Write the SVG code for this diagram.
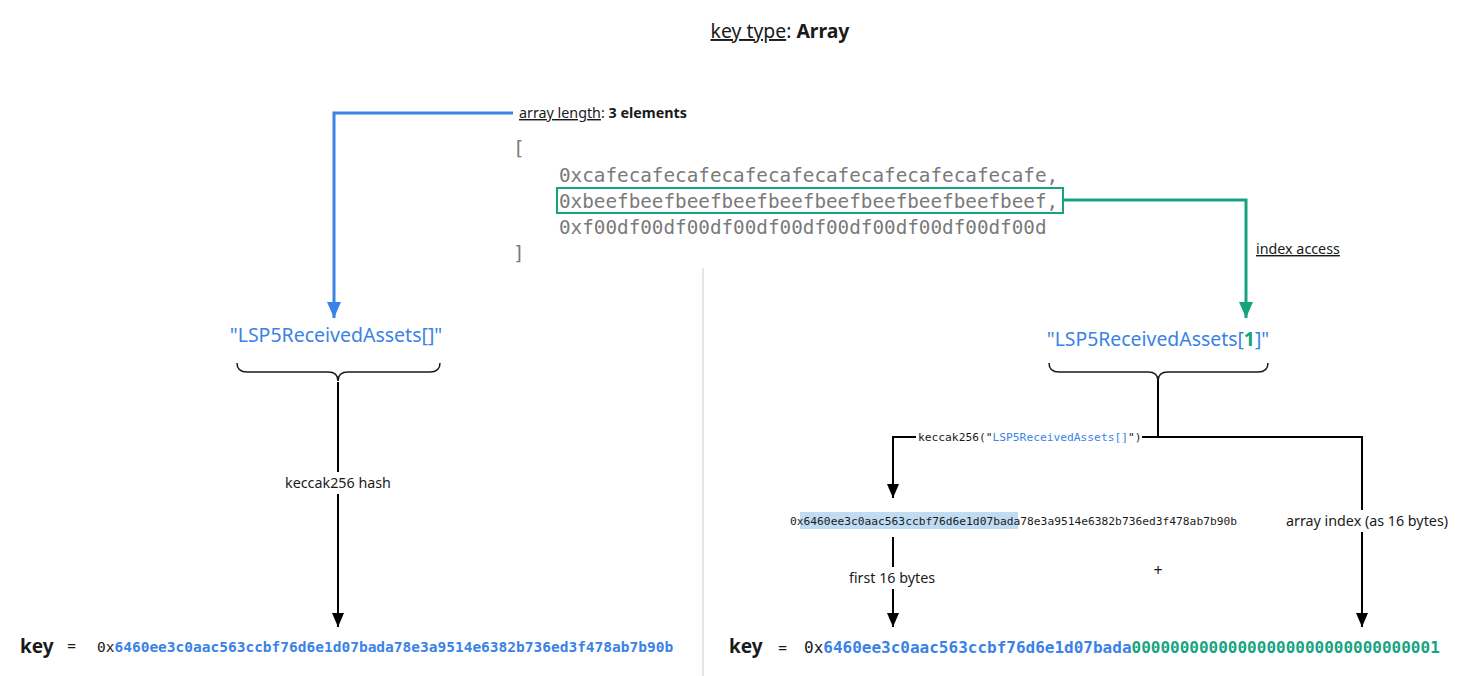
<svg xmlns="http://www.w3.org/2000/svg" width="1477" height="676" viewBox="0 0 1477 676">
<defs>
<style>
.sans{font-family:"Noto Sans","Open Sans","Liberation Sans",sans-serif;fill:#1a1a1a}
.mono{font-family:"DejaVu Sans Mono","Liberation Mono",monospace}
.blue{fill:#3b82e6}
.green{fill:#16a37f}
.code{fill:#7a7a7a;font-size:19.3px}
.k{stroke:#000;stroke-width:2;fill:none}
.u{text-decoration:underline}
.lbl{font-size:14.3px}
</style>
<marker id="ak" viewBox="0 0 14 12" refX="14" refY="6" markerWidth="14" markerHeight="12" markerUnits="userSpaceOnUse" orient="auto"><path d="M0,0 L14,6 L0,12 z" fill="#000"/></marker>
<marker id="ab" viewBox="0 0 14 16" refX="7" refY="16" markerWidth="14" markerHeight="16" markerUnits="userSpaceOnUse"><path d="M0,0 L14,0 L7,16 z" fill="#3b82e6"/></marker>
<marker id="ag" viewBox="0 0 14 16" refX="7" refY="16" markerWidth="14" markerHeight="16" markerUnits="userSpaceOnUse"><path d="M0,0 L14,0 L7,16 z" fill="#16a37f"/></marker>
</defs>
<rect width="1477" height="676" fill="#fff"/>

<g id="title"><text class="sans" x="780" y="38" font-size="19.4" text-anchor="middle"><tspan class="u">key type</tspan>: <tspan font-weight="bold">Array</tspan></text></g>

<line x1="703" y1="268" x2="703" y2="676" stroke="#e6e6e6" stroke-width="2"/>

<g id="connectors">
<path d="M513,113 H334 V318" stroke="#3b82e6" stroke-width="3" fill="none" marker-end="url(#ab)"/>
<path d="M1063,200 H1246 V318" stroke="#16a37f" stroke-width="3" fill="none" marker-end="url(#ag)"/>
<path class="k" d="M338,382 V627" marker-end="url(#ak)"/>
<path class="k" d="M1158,380 V437"/>
<path class="k" d="M1158,437 H893 V498" marker-end="url(#ak)"/>
<path class="k" d="M1158,437 H1362 V627" marker-end="url(#ak)"/>
<path class="k" d="M893,537 V627" marker-end="url(#ak)"/>
<path d="M237,363 Q237,372 247,372 L328,372 Q338,372 338,381 Q338,372 348,372 L430,372 Q440,372 440,363" stroke="#1a1a1a" stroke-width="1.5" fill="none"/>
<path d="M1049,363 Q1049,372 1059,372 L1148,372 Q1158,372 1158,381 Q1158,372 1168,372 L1258,372 Q1268,372 1268,363" stroke="#1a1a1a" stroke-width="1.5" fill="none"/>
</g>

<g id="array-length"><text class="sans lbl" x="519" y="118"><tspan class="u">array length</tspan>: <tspan font-weight="bold">3 elements</tspan></text></g>

<g id="array">
<text class="mono code" x="513" y="155">[</text>
<text class="mono code" x="559" y="182">0xcafecafecafecafecafecafecafecafecafecafe,</text>
<rect x="557" y="188" width="506" height="25" fill="none" stroke="#16a37f" stroke-width="2"/>
<text class="mono code" x="559" y="208">0xbeefbeefbeefbeefbeefbeefbeefbeefbeefbeef,</text>
<text class="mono code" x="559" y="234">0xf00df00df00df00df00df00df00df00df00df00d</text>
<text class="mono code" x="513" y="260">]</text>
</g>

<g id="index-access"><text class="sans u lbl" x="1256" y="254">index access</text></g>

<g id="name-left"><text class="sans blue" x="336" y="342" font-size="19.5" text-anchor="middle">"LSP5ReceivedAssets[]"</text></g>
<g id="name-right"><text class="sans blue" x="1158" y="346" font-size="19.4" text-anchor="middle">"LSP5ReceivedAssets[<tspan class="green" font-weight="bold">1</tspan>]"</text></g>

<g id="keccak-hash-label">
<rect x="280" y="472" width="116" height="22" fill="#fff"/>
<text class="sans lbl" x="338" y="488" text-anchor="middle">keccak256 hash</text>
</g>

<g id="keccak-call-label">
<rect x="916" y="429" width="226" height="16" fill="#fff"/>
<text class="mono" x="918" y="441" font-size="11.25" fill="#1a1a1a">keccak256("<tspan class="blue">LSP5ReceivedAssets[]</tspan>")</text>
</g>

<g id="hash">
<rect x="800" y="512" width="218" height="17" fill="#bfdcf3"/>
<text class="mono" x="790" y="525" font-size="11.25" fill="#1a1a1a">0x6460ee3c0aac563ccbf76d6e1d07bada78e3a9514e6382b736ed3f478ab7b90b</text>
</g>

<g id="array-index-label">
<rect x="1282" y="510" width="172" height="22" fill="#fff"/>
<text class="sans lbl" x="1367" y="526" text-anchor="middle">array index (as 16 bytes)</text>
</g>

<g id="first16-label">
<rect x="836" y="567" width="112" height="22" fill="#fff"/>
<text class="sans lbl" x="892" y="583" text-anchor="middle">first 16 bytes</text>
</g>

<g id="plus"><text class="sans" x="1158" y="576" font-size="16" text-anchor="middle">+</text></g>

<g id="key-left">
<text class="sans" x="20" y="653" font-size="19" font-weight="bold">key</text>
<text class="sans" x="67" y="652" font-size="16">=</text>
<text class="mono" x="97" y="652" font-size="14.5" fill="#1a1a1a">0x<tspan class="blue" font-weight="bold">6460ee3c0aac563ccbf76d6e1d07bada78e3a9514e6382b736ed3f478ab7b90b</tspan></text>
</g>

<g id="key-right">
<text class="sans" x="729" y="653" font-size="19" font-weight="bold">key</text>
<text class="sans" x="778" y="654" font-size="16">=</text>
<text class="mono" x="804" y="653" font-size="16" fill="#1a1a1a">0x<tspan class="blue" font-weight="bold">6460ee3c0aac563ccbf76d6e1d07bada</tspan><tspan class="green" font-weight="bold">00000000000000000000000000000001</tspan></text>
</g>
</svg>
